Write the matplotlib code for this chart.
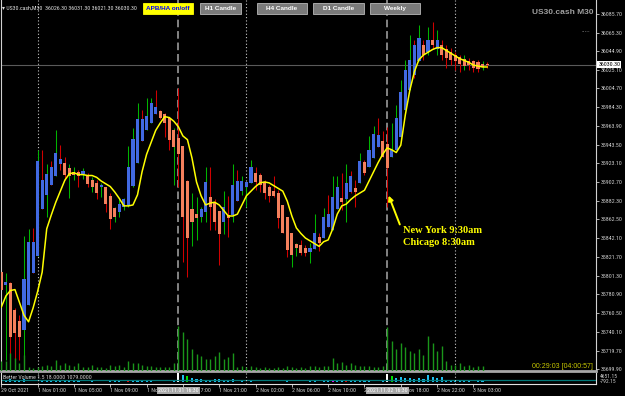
import matplotlib.pyplot as plt
import numpy as np
from matplotlib import font_manager
from matplotlib.patches import Rectangle
from matplotlib.transforms import blended_transform_factory

# US30.cash M30 - APB bodies over real candle wicks, price in points
opens = [35805, 35791, 35793, 35764, 35752, 35742, 35769, 35804, 35822, 35874,
         35889, 35900, 35909, 35922, 35924, 35918, 35914, 35914, 35912, 35909,
         35905, 35902, 35897, 35897, 35888, 35875, 35870, 35876, 35878, 35899,
         35924, 35947, 35959, 35967, 35977, 35980, 35977, 35973, 35960, 35951,
         35942, 35904, 35874, 35868, 35865, 35870, 35887, 35880, 35871, 35859,
         35867, 35867, 35882, 35893, 35898, 35902, 35913, 35911, 35903, 35897,
         35893, 35891, 35878, 35865, 35848, 35836, 35835, 35831, 35827, 35830,
         35843, 35842, 35854, 35851, 35874, 35886, 35884, 35892, 35896, 35902,
         35925, 35919, 35929, 35941, 35948, 35944, 35930, 35938, 35952, 35981,
         36003, 36019, 36034, 36052, 36044, 36057, 36047, 36052, 36047, 36044,
         36041, 36039, 36037, 36035, 36034, 36033, 36031, 36031]
closes = [35786, 35794, 35735, 35739, 35734, 35797, 35838, 35838, 35926, 35905,
          35912, 35919, 35935, 35928, 35911, 35909, 35911, 35910, 35915, 35901,
          35898, 35891, 35900, 35879, 35863, 35865, 35879, 35884, 35919, 35950,
          35971, 35971, 35975, 35989, 35985, 35972, 35967, 35949, 35941, 35933,
          35865, 35842, 35859, 35864, 35874, 35903, 35876, 35860, 35846, 35876,
          35864, 35900, 35904, 35904, 35903, 35919, 35903, 35900, 35891, 35888,
          35888, 35864, 35848, 35829, 35824, 35831, 35826, 35826, 35831, 35848,
          35837, 35865, 35868, 35887, 35897, 35881, 35902, 35909, 35892, 35926,
          35913, 35938, 35955, 35954, 35930, 35918, 35938, 35973, 36001, 36025,
          36036, 36052, 36060, 36041, 36057, 36052, 36057, 36041, 36038, 36036,
          36034, 36031, 36029, 36030, 36027, 36026, 36028, 36030]
highs = [35810, 35804, 35794, 35766, 35758, 35844, 35852, 35853, 35938, 35938,
         35922, 35926, 35959, 35943, 35930, 35922, 35919, 35916, 35918, 35913,
         35908, 35905, 35902, 35898, 35891, 35876, 35885, 35886, 35942, 35962,
         35989, 35981, 35994, 35994, 36003, 35981, 35978, 35974, 35962, 36005,
         35942, 35905, 35891, 35887, 35876, 35919, 35919, 35884, 35871, 35893,
         35888, 35922, 35916, 35909, 35903, 35927, 35919, 35913, 35905, 35900,
         35909, 35894, 35878, 35865, 35848, 35837, 35840, 35834, 35837, 35868,
         35848, 35875, 35889, 35909, 35909, 35913, 35923, 35915, 35905, 35934,
         35927, 35953, 35964, 35973, 35958, 35963, 35967, 35987, 36014, 36036,
         36063, 36057, 36074, 36057, 36071, 36077, 36068, 36057, 36052, 36049,
         36044, 36041, 36041, 36038, 36036, 36036, 36034, 36033]
lows = [35775, 35710, 35708, 35708, 35710, 35704, 35769, 35804, 35822, 35874,
        35865, 35900, 35909, 35916, 35905, 35886, 35905, 35897, 35906, 35897,
        35892, 35884, 35887, 35870, 35852, 35859, 35865, 35872, 35876, 35898,
        35924, 35947, 35959, 35967, 35977, 35971, 35952, 35938, 35900, 35897,
        35816, 35800, 35833, 35840, 35859, 35859, 35851, 35851, 35813, 35846,
        35843, 35860, 35882, 35889, 35876, 35902, 35894, 35892, 35884, 35881,
        35887, 35853, 35848, 35821, 35811, 35822, 35824, 35822, 35815, 35830,
        35828, 35842, 35854, 35851, 35874, 35873, 35860, 35891, 35876, 35902,
        35911, 35919, 35929, 35941, 35930, 35876, 35930, 35938, 35952, 35981,
        36003, 36016, 36034, 36036, 36041, 36047, 36041, 36036, 36027, 36030,
        36025, 36023, 36025, 36025, 36023, 36023, 36025, 36027]
# direction of the real candle (wick colour): u = up, d = down
candle_dir = ("duddduudud" "ududduudud" "ududduuuuu" "uduuddddud" "dduuuudddu"
              "duduuudddd" "dddduudduu" "duduududdu" "duuddduuuu" "ududududdd"
              "ddudddud")
# yellow smoothed average
ma_line = [35767, 35779, 35785, 35786, 35772, 35758, 35751, 35766, 35784, 35805,
           35852, 35867, 35881, 35893, 35905, 35912, 35913, 35911, 35911, 35910,
           35910, 35908, 35904, 35901, 35898, 35892, 35885, 35877, 35877, 35878,
           35889, 35914, 35933, 35946, 35959, 35967, 35974, 35973, 35969, 35963,
           35953, 35949, 35929, 35903, 35888, 35878, 35880, 35881, 35878, 35872,
           35866, 35866, 35868, 35878, 35888, 35893, 35898, 35902, 35903, 35902,
           35899, 35896, 35893, 35882, 35866, 35853, 35847, 35842, 35839, 35836,
           35833, 35838, 35840, 35852, 35868, 35877, 35879, 35884, 35888, 35891,
           35894, 35904, 35914, 35924, 35933, 35940, 35938, 35935, 35943, 35976,
           36003, 36023, 36036, 36041, 36044, 36047, 36049, 36049, 36046, 36043,
           36040, 36037, 36035, 36033, 36030, 36029, 36028, 36028]
volume = [1000, 1000, 1800, 1300, 800, 1600, 400, 300, 400, 500,
          600, 500, 1100, 600, 800, 600, 500, 800, 400, 400,
          600, 400, 400, 300, 600, 500, 600, 400, 1000, 800,
          800, 600, 500, 500, 400, 400, 400, 400, 800, 4500,
          3900, 3200, 2200, 1700, 1500, 1200, 1200, 1500, 1900, 1200,
          1400, 1800, 400, 500, 400, 500, 400, 300, 400, 300,
          300, 400, 300, 500, 400, 300, 400, 300, 500, 500,
          400, 500, 500, 1300, 800, 900, 600, 800, 600, 500,
          500, 500, 400, 400, 500, 4400, 3000, 2200, 2800, 2400,
          2000, 1800, 2200, 1600, 3500, 2800, 2000, 2500, 1000, 600,
          600, 800, 500, 600, 400, 500, 500, 18]
bv_signal = {28: 'climax_up', 39: 'climax_down', 41: 'churn', 73: 'climax_churn',
             76: 'climax_up', 85: 'climax_down', 86: 'churn'}
bv_avg = 1079.0
bv_range = (-792.15, 4651.15)

price_ticks = [36085.70, 36065.30, 36044.90, 36025.10, 36004.70, 35984.30, 35963.90,
               35943.50, 35923.10, 35902.70, 35882.30, 35862.50, 35842.10, 35821.70,
               35801.30, 35780.90, 35760.50, 35740.10, 35719.70, 35699.90]
bid = 36030.30
time_idx = [0, 8, 16, 24, 32, 40, 48, 56, 64, 72, 80, 88, 96, 104]
time_labels = ['29 Oct 2021', '1 Nov 01:00', '1 Nov 05:00', '1 Nov 09:00', '1 Nov 13:00',
               '1 Nov 17:00', '1 Nov 21:00', '2 Nov 02:00', '2 Nov 06:00', '2 Nov 10:00',
               '2 Nov 14:00', '2 Nov 18:00', '2 Nov 22:00', '3 Nov 03:00']
day_starts = [8, 54, 100]
ny_open = [39, 85]
ny_open_labels = ['2021.11.01 16:30', '2021.11.02 16:30']

# small terminal font: a narrow face if there is one
avail = {f.name for f in font_manager.fontManager.ttflist}
narrow = next((n for n in ['Liberation Sans Narrow', 'DejaVu Sans Condensed',
                           'Roboto Condensed', 'Open Sans Condensed'] if n in avail), None)
if narrow:
    small, fs = narrow, 4.2
else:
    small, fs = 'Liberation Sans', 3.6
plt.rcParams['font.family'] = [small, 'DejaVu Sans']

W, H = 625, 396
fig = plt.figure(figsize=(W / 100, H / 100), dpi=100, facecolor='black')


def box(l, t, r, b):
    return [l / W, 1 - b / H, (r - l) / W, (b - t) / H]


o = np.array(opens, float)
c = np.array(closes, float)
x = np.arange(len(o))
xlim = (-0.07, 131.0)

# main price window
ax = fig.add_axes(box(1, 0, 596, 371))
ax.set_facecolor('black')

# tick volume at the foot of the price window
axv = ax.twinx()
axv.set_ylim(0, 37100)
axv.vlines(x, 0, volume, colors='#1a961a', lw=1.0)
axv.set_yticks([])
for s in axv.spines.values():
    s.set_visible(False)

ax.set_xlim(*xlim)
axv.set_xlim(*xlim)
ax.set_ylim(35697.5, 36100.8)

for d in day_starts:
    ax.axvline(d, color='#c8c8c8', lw=0.8, ls=(0, (1, 2)), zorder=1)
for d in ny_open:
    ax.axvline(d, color='#a8a8a8', lw=1.1, ls=(0, (5, 2.5)), zorder=1)
ax.axhline(bid, color='#5a5a5a', lw=0.8, zorder=1)

wick_cols = ['#00b400' if s == 'u' else '#d00000' for s in candle_dir]
ax.vlines(x, lows, highs, colors=wick_cols, lw=0.75, zorder=2)
body_cols = np.where(c >= o, '#4169e1', '#f4805c')
ax.bar(x, np.maximum(np.abs(c - o), 1.6), bottom=np.minimum(o, c), width=0.68,
       color=body_cols, lw=0, zorder=3)
ax.plot(x, ma_line, color='#ffff00', lw=1.1, zorder=4)

ax.yaxis.tick_right()
ax.set_yticks(price_ticks)
ax.set_yticklabels(['%.2f' % p for p in price_ticks])
ax.tick_params(axis='y', colors='#d0d0d0', labelsize=fs, length=2, width=0.6, pad=1.5,
               left=False, labelleft=False, right=True, labelright=True)
ax.set_xticks([])
for s in ['left', 'right']:
    ax.spines[s].set_color('#d0d0d0')
    ax.spines[s].set_linewidth(0.8)
ax.spines['top'].set_visible(False)
ax.spines['bottom'].set_color('#a8a8a8')
ax.spines['bottom'].set_linewidth(2)

bt = blended_transform_factory(ax.transAxes, ax.transData)
axv.text(1.004, (bid - 35697.5) / (36100.8 - 35697.5), '%.2f' % bid,
         transform=ax.transAxes, fontsize=fs, color='black',
         va='center', ha='left', zorder=6,
         bbox=dict(facecolor='white', edgecolor='none', pad=0.8))

# annotation
axv.annotate('', xy=(85.1, 35891), xytext=(88.0, 35854), xycoords=ax.transData,
             textcoords=ax.transData,
             arrowprops=dict(arrowstyle='-|>', color='#ffff00', lw=1.4,
                             mutation_scale=7), zorder=6)
for yv, lab in [(35850, 'New York 9:30am'), (35837, 'Chicago 8:30am')]:
    axv.text(88.5, yv, lab, transform=ax.transData, color='#ffff00', fontsize=7.5,
             family='Liberation Serif', weight='bold', va='center', ha='left')

# Better Volume sub window
axs = fig.add_axes(box(1, 373, 596, 384))
axs.set_facecolor('black')
axs.set_xlim(*xlim)
axs.set_ylim(*bv_range)
sig_col = {'climax_up': '#ff0000', 'climax_down': '#ffffff',
           'churn': '#00e000', 'climax_churn': '#ff00ff'}
bv_cols = [sig_col[bv_signal[i]] if i in bv_signal else '#20c0f0' for i in x]
axs.bar(x, volume, width=0.45, color=bv_cols, lw=0)
axs.axhline(bv_avg, color='#007878', lw=0.9)
for d in day_starts:
    axs.axvline(d, color='#c8c8c8', lw=0.8, ls=(0, (1, 2)))
axs.set_yticks([])
axs.set_xticks(time_idx)
axs.set_xticklabels(time_labels, ha='left')
axs.tick_params(axis='x', colors='#d0d0d0', labelsize=fs, length=2, width=0.6, pad=1.2)
for s in ['left', 'right', 'bottom']:
    axs.spines[s].set_color('#e0e0e0')
    axs.spines[s].set_linewidth(0.8)
axs.spines['top'].set_visible(False)
axs.text(0.004, 0.55, 'Better Volume 1.5 18.0000 1079.0000', transform=axs.transAxes,
         color='#d0d0d0', fontsize=fs, va='center', ha='left')
axs.text(1.006, 0.72, '4651.15', transform=axs.transAxes, color='#d0d0d0',
         fontsize=fs - 0.2, va='center', ha='left')
axs.text(1.006, 0.2, '-792.15', transform=axs.transAxes, color='#d0d0d0',
         fontsize=fs - 0.2, va='center', ha='left')
xt = axs.get_xaxis_transform()
for d, lab in zip(ny_open, ny_open_labels):
    axs.text(d, -0.58, lab, transform=xt, fontsize=fs, color='#ffffff',
             ha='center', va='center', zorder=6,
             bbox=dict(facecolor='#a8a8a8', edgecolor='none', pad=0.9))

# chart header and buttons
fig.text(2 / W, 1 - 8 / H, '\u25be US30.cash,M30  36026.30 36031.30 36021.30 36030.30',
         color='#e0e0e0', fontsize=fs, va='center', ha='left')
buttons = [('APB/HA on/off', 143, 193), ('H1 Candle', 200, 241), ('H4 Candle', 257, 307),
           ('D1 Candle', 313, 364), ('Weekly', 370, 420)]
for k, (lab, l, r) in enumerate(buttons):
    first = k == 0
    fig.patches.append(Rectangle((l / W, 1 - 14 / H), (r - l) / W, 11 / H,
                                 transform=fig.transFigure,
                                 facecolor='#ffff00' if first else '#7a7a7a',
                                 edgecolor='#ffff00' if first else '#b8b8b8', lw=0.6))
    fig.text((l + r) / 2 / W, 1 - 8.5 / H, lab, color='#0000ff' if first else '#ffffff',
             fontsize=4.6, weight='bold', family='Liberation Sans', ha='center', va='center')
fig.text(593 / W, 1 - 12 / H, 'US30.cash M30', color='#a0a0a0', fontsize=6,
         weight='bold', family='Liberation Sans', ha='right', va='center')
fig.text(590 / W, 1 - 33 / H, '\u00b7\u00b7\u00b7\u00b7\u00b7', color='#a0a0a0',
         fontsize=5, ha='right', va='center')
fig.text(593 / W, 1 - 366 / H, '00:29:03 [04:00:57]', color='#c8c800', fontsize=5,
         family='Liberation Sans', ha='right', va='center')

fig.savefig('out.png', dpi=100, facecolor='black')
